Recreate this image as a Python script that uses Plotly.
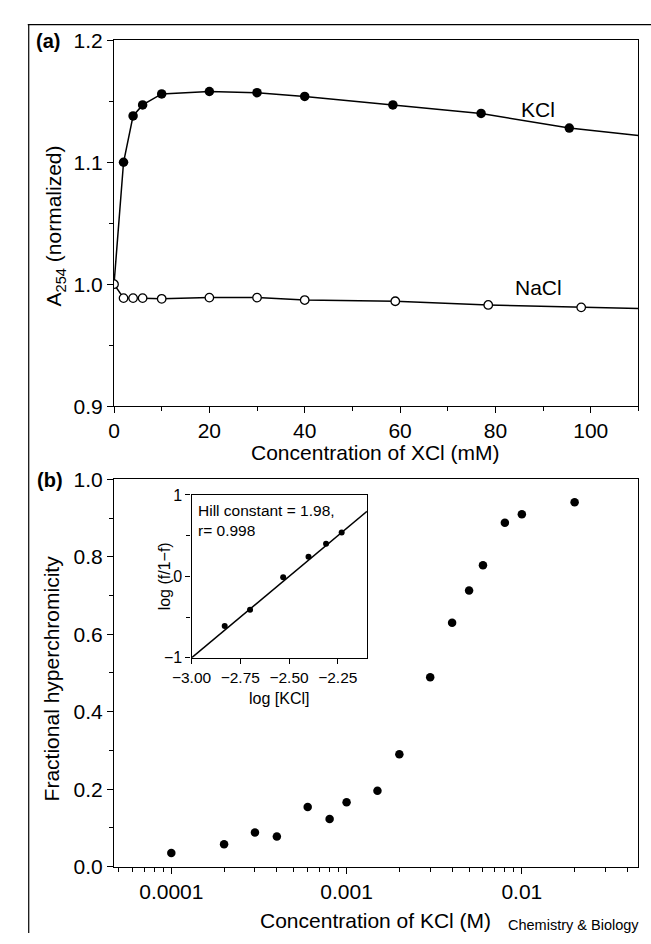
import plotly.graph_objects as go

# panel (a): normalized A254 vs salt concentration (mM)
kcl_x = [0, 2, 4, 6, 10, 20, 30, 40, 58.5, 77, 95.5]
kcl_y = [1.000, 1.100, 1.138, 1.147, 1.156, 1.158, 1.157, 1.154, 1.147, 1.140, 1.128]
kcl_curve_end = (110, 1.122)

nacl_x = [0, 2, 4, 6, 10, 20, 30, 40, 59, 78.5, 98]
nacl_y = [1.000, 0.9886, 0.9886, 0.9886, 0.988, 0.989, 0.989, 0.987, 0.986, 0.983, 0.981]
nacl_curve_end = (110, 0.980)

# panel (b): fractional hyperchromicity vs [KCl] (M)
conc_m = [0.0001, 0.0002, 0.0003, 0.0004, 0.0006, 0.0008, 0.001, 0.0015,
          0.002, 0.003, 0.004, 0.005, 0.006, 0.008, 0.01, 0.02]
frac_hyper = [0.035, 0.058, 0.088, 0.078, 0.154, 0.123, 0.166, 0.196,
              0.290, 0.489, 0.630, 0.713, 0.778, 0.888, 0.910, 0.941]

# inset: Hill plot
hill_x = [-2.83, -2.70, -2.53, -2.40, -2.31, -2.23]
hill_y = [-0.61, -0.41, -0.01, 0.24, 0.40, 0.54]
hill_fit_x = [-3.0, -2.1]
hill_fit_y = [-1.0, 0.80]

W, H = 651, 944
FONT = "Liberation Sans, Arial, sans-serif"


def px(x):
    return x / W


def py(y):
    return 1 - y / H


fig = go.Figure()

# --- panel (a)
fig.add_trace(go.Scatter(
    x=kcl_x + [kcl_curve_end[0]], y=kcl_y + [kcl_curve_end[1]],
    mode="lines", line=dict(color="black", width=1.5),
    xaxis="x", yaxis="y", showlegend=False))
fig.add_trace(go.Scatter(
    x=nacl_x + [nacl_curve_end[0]], y=nacl_y + [nacl_curve_end[1]],
    mode="lines", line=dict(color="black", width=1.5),
    xaxis="x", yaxis="y", showlegend=False))
fig.add_trace(go.Scatter(
    x=kcl_x[1:], y=kcl_y[1:], mode="markers",
    marker=dict(color="black", size=9.5),
    xaxis="x", yaxis="y", showlegend=False))
fig.add_trace(go.Scatter(
    x=nacl_x, y=nacl_y, mode="markers",
    marker=dict(color="white", size=8.5, line=dict(color="black", width=1.3)),
    xaxis="x", yaxis="y", showlegend=False))

# --- panel (b)
fig.add_trace(go.Scatter(
    x=conc_m, y=frac_hyper, mode="markers",
    marker=dict(color="black", size=8.5),
    xaxis="x2", yaxis="y2", showlegend=False))

# --- inset
fig.add_trace(go.Scatter(
    x=hill_fit_x, y=hill_fit_y, mode="lines",
    line=dict(color="black", width=1.5),
    xaxis="x3", yaxis="y3", showlegend=False))
fig.add_trace(go.Scatter(
    x=hill_x, y=hill_y, mode="markers",
    marker=dict(color="black", size=6),
    xaxis="x3", yaxis="y3", showlegend=False))

axis_common = dict(showline=True, linecolor="black", linewidth=1.2, mirror=True,
                   ticks="outside", ticklen=6, tickcolor="black", tickwidth=1.2,
                   showgrid=False, zeroline=False,
                   tickfont=dict(family=FONT, size=21, color="black"))

x_dom = [px(97), px(638)]

fig.update_layout(
    width=W, height=H,
    margin=dict(l=0, r=0, t=0, b=0),
    paper_bgcolor="white", plot_bgcolor="white",
    xaxis=dict(axis_common, domain=x_dom, range=[0, 110], dtick=20,
               minor=dict(dtick=10, ticks="outside", ticklen=4, tickcolor="black"),
               anchor="y"),
    yaxis=dict(axis_common, domain=[py(404), py(29)], range=[0.9, 1.2], dtick=0.1,
               tickformat=".1f",
               minor=dict(dtick=0.05, ticks="outside", ticklen=4, tickcolor="black"),
               anchor="x"),
    xaxis2=dict(axis_common, domain=x_dom, type="log", range=[-4.327, -1.335],
                tickvals=[0.0001, 0.001, 0.01], ticktext=["0.0001", "0.001", "0.01"],
                minor=dict(ticks="outside", ticklen=4, tickcolor="black", dtick="D1"),
                anchor="y2"),
    yaxis2=dict(axis_common, domain=[py(876), py(479)], range=[0, 1.0], dtick=0.2,
                tickformat=".1f",
                minor=dict(dtick=0.1, ticks="outside", ticklen=4, tickcolor="black"),
                anchor="x2"),
    xaxis3=dict(axis_common, domain=[px(177), px(358)], range=[-3.0, -2.1],
                tickvals=[-3.0, -2.75, -2.5, -2.25],
                ticktext=["\u22123.00", "\u22122.75", "\u22122.50", "\u22122.25"],
                ticklen=5, tickfont=dict(family=FONT, size=15.5, color="black"),
                anchor="y3"),
    yaxis3=dict(axis_common, domain=[py(662), py(495)], range=[-1, 1],
                tickvals=[-1, 0, 1], ticktext=["\u22121", "0", "1"],
                minor=dict(tickvals=[-0.5, 0.5], ticks="outside", ticklen=4, tickcolor="black"),
                ticklen=5, tickfont=dict(family=FONT, size=16, color="black"),
                anchor="x3"),
)

# inset background so it reads as a separate box
fig.add_shape(type="rect", xref="paper", yref="paper",
              x0=px(177), x1=px(358), y0=py(662), y1=py(495),
              fillcolor="white", line=dict(width=0), layer="below")

# outer figure frame (top and left edges)
fig.add_shape(type="line", xref="paper", yref="paper",
              x0=px(8), x1=1, y0=py(13), y1=py(13), line=dict(color="black", width=1.2))
fig.add_shape(type="line", xref="paper", yref="paper",
              x0=px(9), x1=px(9), y0=py(13), y1=0, line=dict(color="black", width=1.2))


def note(text, x, y, size=21, xanchor="center", yanchor="middle", **kw):
    fig.add_annotation(text=text, x=x, y=y, xref="paper", yref="paper",
                       xanchor=xanchor, yanchor=yanchor, showarrow=False,
                       font=dict(family=FONT, size=size, color="black"), **kw)


note("<b>(a)</b>", px(29), py(30), size=20)
note("<b>(b)</b>", px(31), py(480), size=20)
note("A<sub>254</sub> (normalized)", px(36), py(219), textangle=-90)
note("Concentration of XCl (mM)", px(367), py(452))
note("Fractional hyperchromicity", px(32), py(683), textangle=-90)
note("Concentration of KCl (M)", px(367), py(931))
note("Chemistry &amp; Biology", px(641), py(936), size=14.5, xanchor="right")
note("log (f/1\u2212f)", px(149), py(578), size=16, textangle=-90)
note("log [KCl]", px(267), py(704), size=16)
note("Hill constant = 1.98,<br>r= 0.998", px(182), py(521), size=15.5,
     xanchor="left", align="left")

fig.add_annotation(text="KCl", x=89, y=1.143, xref="x", yref="y", showarrow=False,
                   font=dict(family=FONT, size=21, color="black"))
fig.add_annotation(text="NaCl", x=89, y=0.997, xref="x", yref="y", showarrow=False,
                   font=dict(family=FONT, size=21, color="black"))

# drop the default body margin so the 651x944 figure fills the window exactly
fig.write_html("out.html", config={"displayModeBar": False}, post_script=(
    "document.body.style.margin='0';"
    "document.documentElement.style.overflow='hidden';"
    "document.body.style.overflow='hidden';"))
